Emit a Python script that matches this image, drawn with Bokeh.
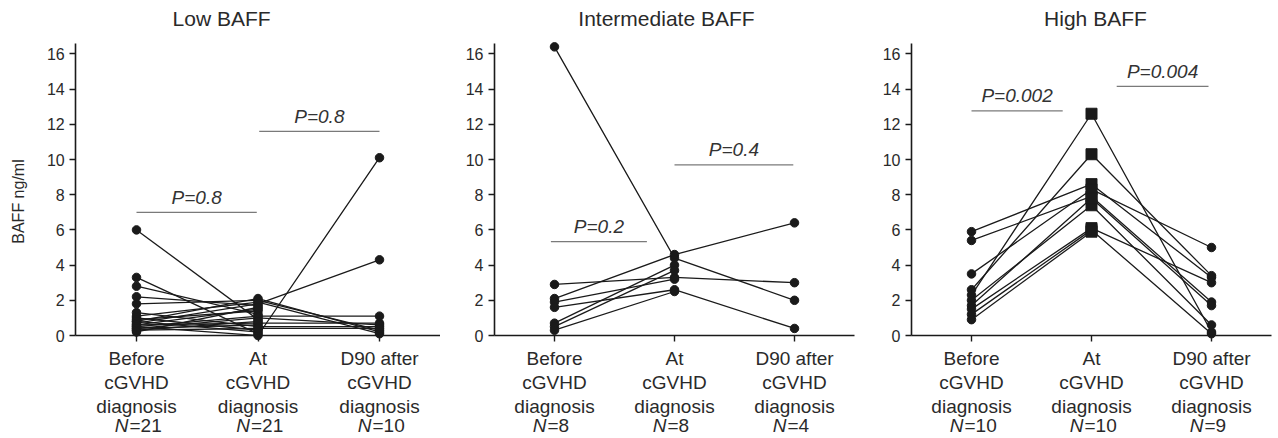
from bokeh.plotting import figure
from bokeh.layouts import row
from bokeh.models import FixedTicker, Label, Range1d
from bokeh.embed import file_html
from bokeh.resources import INLINE
import math

# ---------------- data ----------------
categories = ["Before\ncGVHD\ndiagnosis", "At\ncGVHD\ndiagnosis", "D90 after\ncGVHD\ndiagnosis"]
y_ticks = [0, 2, 4, 6, 8, 10, 12, 14, 16]
y_label = "BAFF ng/ml"

low_before = [6.0, 3.3, 2.8, 2.2, 1.8, 1.3, 1.1, 1.0, 0.9, 0.8, 0.8, 0.7, 0.6, 0.6, 0.5, 0.5, 0.4, 0.4, 0.3, 0.3, 0.2]
low_at = [0.9, 0.1, 1.2, 1.7, 2.0, 0.5, 1.9, 0.3, 1.4, 2.1, 0.2, 1.8, 1.5, 0.7, 1.1, 0.0, 1.0, 0.6, 0.8, 0.4, 1.6]
low_d90 = [None, None, None, None, 0.3, 0.5, 0.1, None, None, 0.2, None, 4.3, None, 0.7, 1.1, 10.1, 0.6, None, None, 0.4, None]
low_n = [21, 21, 10]
low_p_text = ["P=0.8", "P=0.8"]
low_p_x0 = [0.0, 1.01]
low_p_x1 = [0.99, 2.0]
low_p_y = [7.0, 11.6]

int_before = [16.4, 2.9, 2.1, 1.9, 1.6, 0.7, 0.5, 0.3]
int_at = [4.4, 3.3, 4.6, 3.2, 2.6, 4.0, 3.7, 2.5]
int_d90 = [2.0, 3.0, 6.4, None, 0.4, None, None, None]
int_n = [8, 8, 4]
int_p_text = ["P=0.2", "P=0.4"]
int_p_x0 = [-0.03, 1.0]
int_p_x1 = [0.77, 1.99]
int_p_y = [5.33, 9.7]

high_before = [5.9, 5.4, 3.5, 2.6, 2.3, 2.0, 1.7, 1.5, 1.2, 0.9]
high_at = [8.6, 7.9, 8.3, 10.3, 12.6, 7.4, 7.8, 6.1, 6.0, 5.9]
high_d90 = [3.3, 1.9, 5.0, 3.4, 0.2, 0.6, 1.7, 3.0, 0.1, None]
high_n = [10, 10, 9]
high_p_text = ["P=0.002", "P=0.004"]
high_p_x0 = [0.0, 1.21]
high_p_x1 = [0.76, 1.975]
high_p_y = [12.76, 14.16]

FONT = "Liberation Sans"
INK = "#1a1a1a"
TXT = "#2a2a2a"

H = 438          # canvas height
Y0 = 335         # pixel row of value 0
PPU = 17.6       # pixels per unit on y


def make_panel(title, before, at, d90, ns, p_text, p_x0, p_x1, p_y,
               width, cat0_px, spacing, title_x, at_marker="circle", ylabel=None):
    x_start = -cat0_px / spacing
    x_end = (width - cat0_px) / spacing
    p = figure(width=width, height=H, output_backend="svg", toolbar_location=None,
               x_range=Range1d(x_start, x_end),
               y_range=Range1d(-(H - Y0) / PPU, Y0 / PPU),
               min_border_left=0, min_border_right=0, min_border_top=0,
               min_border_bottom=0)
    p.outline_line_color = None
    p.grid.visible = False
    p.background_fill_color = "white"
    p.border_fill_color = "white"

    # y axis
    p.yaxis.fixed_location = -0.5
    p.yaxis.ticker = FixedTicker(ticks=y_ticks)
    p.yaxis.bounds = (0, 16.6)
    p.yaxis.minor_tick_line_color = None
    p.yaxis.major_tick_in = 0
    p.yaxis.major_tick_out = 6
    p.yaxis.major_label_standoff = 5
    p.yaxis.axis_line_width = 1.6
    p.yaxis.major_tick_line_width = 1.4
    p.yaxis.axis_line_color = INK
    p.yaxis.major_tick_line_color = INK
    p.yaxis.major_label_text_font = FONT
    p.yaxis.major_label_text_font_size = "16px"
    p.yaxis.major_label_text_color = TXT

    # x axis
    p.xaxis.fixed_location = 0
    p.xaxis.bounds = (-0.5, 2.5)
    p.xaxis.ticker = FixedTicker(ticks=[0, 1, 2])
    p.xaxis.major_label_overrides = {i: c for i, c in enumerate(categories)}
    p.xaxis.minor_tick_line_color = None
    p.xaxis.major_tick_in = 0
    p.xaxis.major_tick_out = 6
    p.xaxis.major_label_standoff = 6
    p.xaxis.axis_line_width = 1.6
    p.xaxis.major_tick_line_width = 1.4
    p.xaxis.axis_line_color = INK
    p.xaxis.major_tick_line_color = INK
    p.xaxis.major_label_text_font = FONT
    p.xaxis.major_label_text_font_size = "19px"
    p.xaxis.major_label_text_color = TXT
    p.xaxis.major_label_text_line_height = 1.15

    # title
    p.add_layout(Label(x=title_x, y=(Y0 - 18) / PPU, text=title, text_font=FONT,
                       text_font_size="21px", text_align="center", text_baseline="middle",
                       text_color=TXT))
    if ylabel:
        p.add_layout(Label(x=(18 - cat0_px) / spacing, y=(Y0 - 201) / PPU, text=ylabel,
                           text_font=FONT, text_font_size="16px", angle=math.pi / 2,
                           text_align="center", text_baseline="middle", text_color=TXT))

    # N labels (italic N)
    for i, n in enumerate(ns):
        p.add_layout(Label(x=i, y=-(425 - Y0) / PPU, text="N", text_font=FONT,
                           text_font_size="19px", text_font_style="italic",
                           text_align="right", text_baseline="middle",
                           x_offset=-8, text_color=TXT))
        p.add_layout(Label(x=i, y=-(425 - Y0) / PPU, text="=" + str(n), text_font=FONT,
                           text_font_size="19px", text_align="left", text_baseline="middle",
                           x_offset=-7, text_color=TXT))

    # patient lines
    cols = [before, at, d90]
    xs, ys = [], []
    for k in range(len(before)):
        px, py = [], []
        for c, col in enumerate(cols):
            if col[k] is not None:
                px.append(c)
                py.append(col[k])
        xs.append(px)
        ys.append(py)
    p.multi_line(xs=xs, ys=ys, line_color=INK, line_width=1.3)

    # markers
    for c, col in enumerate(cols):
        vals = [v for v in col if v is not None]
        marker = at_marker if c == 1 else "circle"
        size = 11 if marker == "square" else 8.5
        p.scatter(x=[c] * len(vals), y=vals, marker=marker, size=size,
                  fill_color=INK, line_color=INK)

    # P-value brackets
    p.segment(x0=p_x0, y0=p_y, x1=p_x1, y1=p_y, line_color="#7a7a7a", line_width=1.3)
    p.text(x=[(a + b) / 2 for a, b in zip(p_x0, p_x1)], y=[y + 0.85 for y in p_y],
           text=p_text, text_font={"value": FONT}, text_font_size="19px",
           text_font_style="italic", text_align="center", text_baseline="middle",
           text_color="#333333")
    return p


p1 = make_panel("Low BAFF", low_before, low_at, low_d90, low_n,
                low_p_text, low_p_x0, low_p_x1, low_p_y,
                440, 136, 121.5, 0.70, ylabel=y_label)
p2 = make_panel("Intermediate BAFF", int_before, int_at, int_d90, int_n,
                int_p_text, int_p_x0, int_p_x1, int_p_y,
                415, 114, 120, 0.933)
p3 = make_panel("High BAFF", high_before, high_at, high_d90, high_n,
                high_p_text, high_p_x0, high_p_x1, high_p_y,
                423, 116, 120, 1.033, at_marker="square")

layout = row(p1, p2, p3)
open("out.html", "w").write(file_html(layout, INLINE))
